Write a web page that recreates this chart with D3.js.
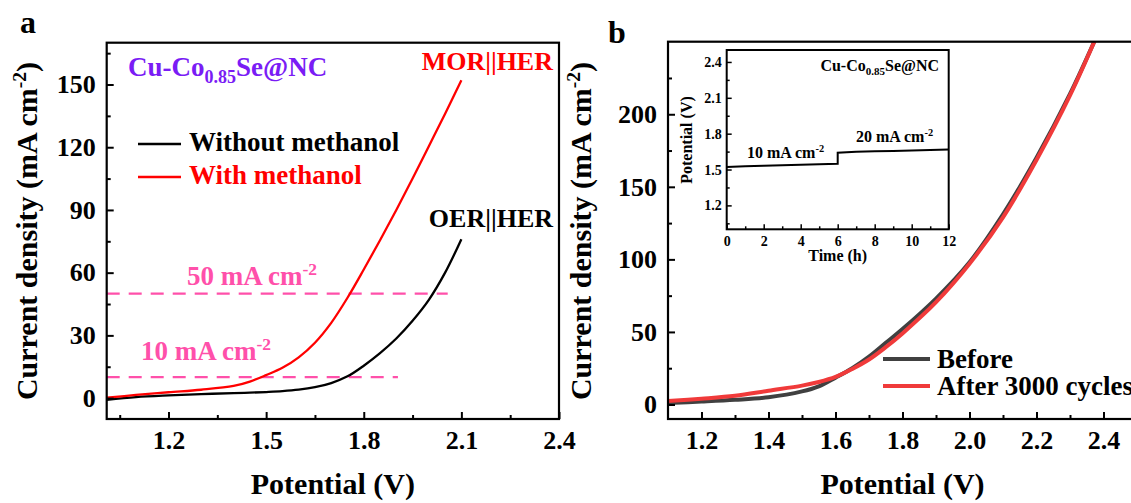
<!DOCTYPE html>
<html>
<head>
<meta charset="utf-8">
<script src="https://cdn.jsdelivr.net/npm/d3@7"></script>
<style>
  html, body { margin: 0; padding: 0; background: #fff; overflow: hidden; }
  svg { display: block; }
  svg text { font-family: "Liberation Serif", "Times New Roman", serif; font-weight: bold; }
</style>
</head>
<body>
<svg id="chart" width="1131" height="503"></svg>
<script>
// panel a: overall water splitting with / without methanol
const potentialA = [1.01, 1.1, 1.2, 1.3, 1.4, 1.45, 1.5, 1.55, 1.6, 1.65, 1.7, 1.75, 1.8, 1.85, 1.9, 1.95, 2.0, 2.05, 2.1];
const withoutMethanol = [-0.8, 0.5, 1.3, 1.9, 2.4, 2.6, 2.9, 3.3, 4.0, 5.2, 7.2, 10.4, 15.5, 21.5, 28.5, 37, 47, 60, 76];
const withMethanol = [0.2, 1.5, 2.8, 4.0, 5.8, 7.9, 11, 14.5, 19.5, 26.5, 36, 48, 61.5, 75.5, 90, 105, 120.5, 136, 152];
const refLevels = [10, 50];
const refEnds = [1.905, 2.058];
const xTicksA = [1.2, 1.5, 1.8, 2.1, 2.4];
const yTicksA = [0, 30, 60, 90, 120, 150];

// panel b: before / after 3000 cycles
const potentialB = [1.1, 1.2, 1.3, 1.4, 1.5, 1.55, 1.6, 1.65, 1.7, 1.75, 1.8, 1.9, 2.0, 2.1, 2.2, 2.3, 2.38];
const beforeCycles = [1, 2, 3.2, 5, 9, 12.5, 18.5, 25, 33, 42.5, 52, 73, 98, 131, 170, 214, 254];
const afterCycles = [2.4, 4, 6, 9.5, 13, 15.5, 19, 24.5, 31, 39.5, 49, 70.5, 97, 129, 168.5, 213, 254];
const xTicksB = [1.2, 1.4, 1.6, 1.8, 2.0, 2.2, 2.4];
const yTicksB = [0, 50, 100, 150, 200];

// inset: chronopotentiometry
const hours = [0, 1, 2, 3, 4, 5, 6, 6, 7, 8, 9, 10, 11, 12];
const insetVolt = [1.522, 1.528, 1.532, 1.536, 1.540, 1.544, 1.548, 1.640, 1.648, 1.652, 1.656, 1.660, 1.664, 1.668];
const xTicksIn = [0, 2, 4, 6, 8, 10, 12];
const yTicksIn = [1.2, 1.5, 1.8, 2.1, 2.4];

const pink = "#ff50aa";
const purple = "#7a1cf5";

const svg = d3.select("#chart");

const minorsOf = (majors, step, lo, hi) => {
    const out = [];
    majors.forEach(m => { out.push(+(m - step).toFixed(3)); });
    out.push(+(majors[majors.length - 1] + step).toFixed(3));
    return out.filter(v => v > lo && v < hi);
};

// axes with inward ticks, frame drawn separately
const drawAxes = function(g, x, y, o) {
    const [x0, x1] = x.range();
    const [y0, y1] = y.range();
    const clean = a => {
        a.select(".domain").remove();
        a.attr("font-family", null).attr("font-size", null);
    };
    g.append("g")
        .attr("transform", `translate(0,${y0})`)
        .call(d3.axisBottom(x).tickValues(o.xMinor).tickSize(-o.minor).tickFormat(""))
        .call(clean);
    g.append("g")
        .attr("transform", `translate(0,${y0})`)
        .call(d3.axisBottom(x).tickValues(o.xTicks).tickSize(-o.major).tickPadding(o.xPad).tickFormat(o.xFmt))
        .call(clean)
        .selectAll("text").attr("font-size", o.font).attr("fill", "#000");
    g.append("g")
        .attr("transform", `translate(${x0},0)`)
        .call(d3.axisLeft(y).tickValues(o.yMinor).tickSize(-o.minor).tickFormat(""))
        .call(clean);
    g.append("g")
        .attr("transform", `translate(${x0},0)`)
        .call(d3.axisLeft(y).tickValues(o.yTicks).tickSize(-o.major).tickPadding(o.yPad).tickFormat(o.yFmt))
        .call(clean)
        .selectAll("text").attr("font-size", o.font).attr("fill", "#000");
    g.selectAll(".tick line").attr("stroke", "#000").attr("stroke-width", o.tickW);
    g.append("rect")
        .attr("x", x0).attr("y", y1)
        .attr("width", x1 - x0).attr("height", y0 - y1)
        .attr("fill", "none").attr("stroke", "#000").attr("stroke-width", o.frameW);
};

// text with a superscript "-2" tail
const unitText = function(g, x, y, size, fill, main, anchor) {
    const t = g.append("text").attr("x", x).attr("y", y)
        .attr("font-size", size).attr("fill", fill)
        .attr("text-anchor", anchor || "start");
    t.append("tspan").text(main);
    t.append("tspan").attr("font-size", size * 0.65).attr("dy", -size * 0.38).text("-2");
    return t;
};

// ---------- panel a ----------
const xA = d3.scaleLinear().domain([1.01, 2.4]).range([106.7, 559]);
const yA = d3.scaleLinear().domain([-10, 170]).range([419, 42.7]);
const gA = svg.append("g");

// reference dashed lines
gA.selectAll("line.ref")
    .data(refLevels)
    .enter()
    .append("line")
    .attr("class", "ref")
    .attr("x1", xA(1.01)).attr("x2", (d, i) => xA(refEnds[i]))
    .attr("y1", d => yA(d)).attr("y2", d => yA(d))
    .attr("stroke", pink).attr("stroke-width", 2.2)
    .attr("stroke-dasharray", "13,9");

const lineA = series => d3.line()
    .x((d, i) => xA(potentialA[i]))
    .y(d => yA(d))
    .curve(d3.curveCatmullRom.alpha(0.5))(series);

gA.append("path").attr("d", lineA(withoutMethanol))
    .attr("fill", "none").attr("stroke", "#000").attr("stroke-width", 2.3);
gA.append("path").attr("d", lineA(withMethanol))
    .attr("fill", "none").attr("stroke", "#ff0000").attr("stroke-width", 2.3);

drawAxes(gA, xA, yA, {
    xTicks: xTicksA, xMinor: minorsOf(xTicksA, 0.15, 1.01, 2.4),
    yTicks: yTicksA, yMinor: minorsOf(yTicksA, 15, -10, 170),
    xFmt: d3.format(".1f"), yFmt: d3.format("d"),
    major: 7, minor: 4, xPad: 12, yPad: 11, font: 26, tickW: 2, frameW: 2.2
});

// labels in panel a
const cuA = gA.append("text").attr("x", 128).attr("y", 76).attr("font-size", 27).attr("fill", purple);
cuA.append("tspan").text("Cu-Co");
cuA.append("tspan").attr("font-size", 18).attr("dy", 7).text("0.85");
cuA.append("tspan").attr("dy", -7).text("Se@NC");

gA.append("text").attr("x", 553).attr("y", 70).attr("text-anchor", "end")
    .attr("font-size", 26).attr("fill", "#ff0000").text("MOR||HER");
gA.append("text").attr("x", 553).attr("y", 227).attr("text-anchor", "end")
    .attr("font-size", 26).attr("fill", "#000").text("OER||HER");

const legA = [["Without methanol", "#000", 144], ["With methanol", "#ff0000", 177]];
legA.forEach(([label, color, ly]) => {
    gA.append("line").attr("x1", 138).attr("x2", 181).attr("y1", ly).attr("y2", ly)
        .attr("stroke", color).attr("stroke-width", 2.3);
    gA.append("text").attr("x", 189).attr("y", ly + 7).attr("font-size", 27)
        .attr("fill", color).text(label);
});

unitText(gA, 187, 285, 27, pink, "50 mA cm");
unitText(gA, 141, 360, 27, pink, "10 mA cm");

// axis titles a
gA.append("text").attr("x", (106.7 + 559) / 2).attr("y", 494).attr("text-anchor", "middle")
    .attr("font-size", 30).text("Potential (V)");
unitText(gA, 0, 0, 30, "#000", "Current density (mA cm", "middle")
    .attr("transform", `translate(37,231) rotate(-90)`).append("tspan").attr("dy", 30 * 0.38).text(")");
gA.append("text").attr("x", 20).attr("y", 33).attr("font-size", 32).text("a");

// ---------- panel b ----------
const xB = d3.scaleLinear().domain([1.1, 2.5]).range([668, 1137]);
const yB = d3.scaleLinear().domain([-10, 250]).range([419, 41.7]);
const gB = svg.append("g");

svg.append("clipPath").attr("id", "clipB")
    .append("rect").attr("x", 668).attr("y", 41.7).attr("width", 469).attr("height", 419 - 41.7);

const lineB = series => d3.line()
    .x((d, i) => xB(potentialB[i]))
    .y(d => yB(d))
    .curve(d3.curveCatmullRom.alpha(0.5))(series);

const curvesB = gB.append("g").attr("clip-path", "url(#clipB)");
curvesB.append("path").attr("d", lineB(beforeCycles))
    .attr("fill", "none").attr("stroke", "#404040").attr("stroke-width", 4);
curvesB.append("path").attr("d", lineB(afterCycles))
    .attr("fill", "none").attr("stroke", "#f03a3a").attr("stroke-width", 4);

drawAxes(gB, xB, yB, {
    xTicks: xTicksB, xMinor: minorsOf(xTicksB, 0.1, 1.1, 2.5),
    yTicks: yTicksB, yMinor: minorsOf(yTicksB, 25, -10, 250),
    xFmt: d3.format(".1f"), yFmt: d3.format("d"),
    major: 7, minor: 4, xPad: 12, yPad: 11, font: 26, tickW: 2, frameW: 2.2
});

const legB = [["Before", "#404040", 359], ["After 3000 cycles", "#f03a3a", 386]];
legB.forEach(([label, color, ly]) => {
    gB.append("line").attr("x1", 883).attr("x2", 930).attr("y1", ly).attr("y2", ly)
        .attr("stroke", color).attr("stroke-width", 4);
    gB.append("text").attr("x", 937).attr("y", ly + 9).attr("font-size", 27)
        .attr("fill", "#000").text(label);
});

gB.append("text").attr("x", (668 + 1137) / 2).attr("y", 494).attr("text-anchor", "middle")
    .attr("font-size", 30).text("Potential (V)");
unitText(gB, 0, 0, 30, "#000", "Current density (mA cm", "middle")
    .attr("transform", `translate(591,231) rotate(-90)`).append("tspan").attr("dy", 30 * 0.38).text(")");
gB.append("text").attr("x", 608).attr("y", 43).attr("font-size", 32).text("b");

// ---------- inset ----------
const xI = d3.scaleLinear().domain([0, 12]).range([726.7, 948.7]);
const yI = d3.scaleLinear().domain([1.0, 2.5]).range([229.3, 50]);
const gI = svg.append("g");

gI.append("rect").attr("x", 726.7).attr("y", 50).attr("width", 222).attr("height", 179.3).attr("fill", "#fff");
gI.append("path")
    .attr("d", d3.line().x((d, i) => xI(hours[i])).y(d => yI(d))(insetVolt))
    .attr("fill", "none").attr("stroke", "#000").attr("stroke-width", 2);

drawAxes(gI, xI, yI, {
    xTicks: xTicksIn, xMinor: [1, 3, 5, 7, 9, 11],
    yTicks: yTicksIn, yMinor: minorsOf(yTicksIn, 0.15, 1.0, 2.5),
    xFmt: d3.format("d"), yFmt: d3.format(".1f"),
    major: 5, minor: 3, xPad: 7, yPad: 5, font: 14, tickW: 1.5, frameW: 2
});

gI.append("text").attr("x", (726.7 + 948.7) / 2).attr("y", 261).attr("text-anchor", "middle")
    .attr("font-size", 16).text("Time (h)");
gI.append("text").attr("transform", "translate(692,140) rotate(-90)").attr("text-anchor", "middle")
    .attr("font-size", 16).text("Potential (V)");

const cuI = gI.append("text").attr("x", 939).attr("y", 71).attr("font-size", 16).attr("text-anchor", "end");
cuI.append("tspan").text("Cu-Co");
cuI.append("tspan").attr("font-size", 11).attr("dy", 4).text("0.85");
cuI.append("tspan").attr("dy", -4).text("Se@NC");

unitText(gI, 747, 158, 16, "#000", "10 mA cm");
unitText(gI, 856, 142, 16, "#000", "20 mA cm");
</script>
</body>
</html>
